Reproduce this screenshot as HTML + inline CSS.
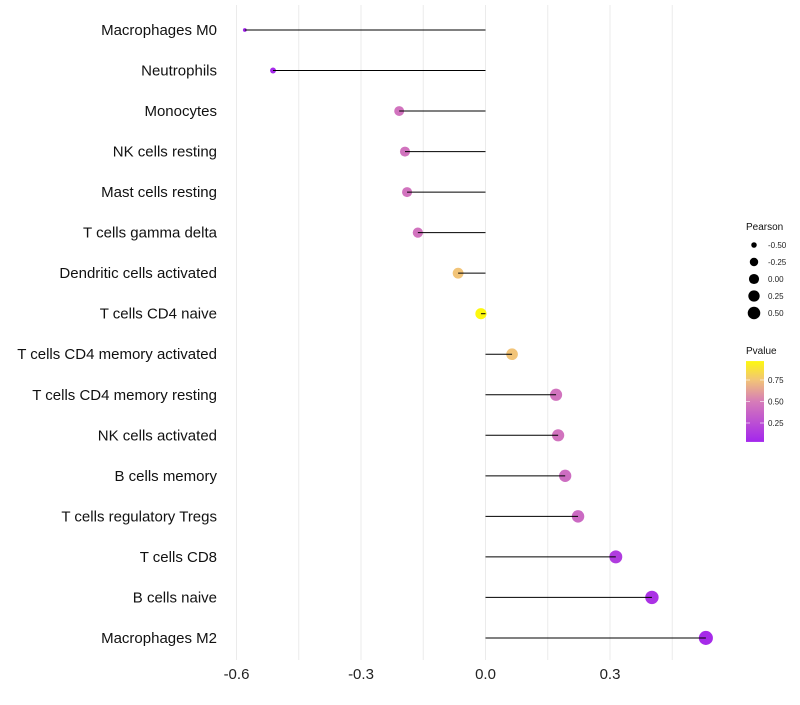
<!DOCTYPE html>
<html><head><meta charset="utf-8"><style>
body{margin:0;background:#fff;font-family:"Liberation Sans",sans-serif}
</style></head><body>
<svg id="c" width="800" height="700" xmlns="http://www.w3.org/2000/svg" font-family="Liberation Sans, sans-serif"></svg>
<script>
const categories=["Macrophages M0","Neutrophils","Monocytes","NK cells resting","Mast cells resting","T cells gamma delta","Dendritic cells activated","T cells CD4 naive","T cells CD4 memory activated","T cells CD4 memory resting","NK cells activated","B cells memory","T cells regulatory  Tregs ","T cells CD8","B cells naive","Macrophages M2"];
const pearson=[-0.58,-0.512,-0.208,-0.194,-0.189,-0.163,-0.066,-0.011,0.064,0.170,0.175,0.192,0.223,0.314,0.401,0.531];
const pvalue=[0.03,0.05,0.45,0.45,0.45,0.45,0.75,0.97,0.75,0.45,0.45,0.42,0.40,0.15,0.10,0.06];
const xTicks=[-0.6,-0.3,0.0,0.3];
const xTickLabels=["-0.6","-0.3","0.0","0.3"];
const xGrid=[-0.6,-0.45,-0.3,-0.15,0,0.15,0.3,0.45];
const sizeLegend=[-0.5,-0.25,0,0.25,0.5];
const sizeLegendLabels=["-0.50","-0.25","0.00","0.25","0.50"];
const pTicks=[0.25,0.5,0.75];

const svg=document.getElementById('c');
const NS="http://www.w3.org/2000/svg";
const x=v=>485.5+v*415;
const y=i=>30+i*40.53;
// size scale (visual mapping, piecewise)
const sk=[[-0.6,1.6],[-0.51,3],[-0.2,5],[0.06,5.8],[0.55,7.1]];
function r(v){if(v<=sk[0][0])return sk[0][1];for(let k=1;k<sk.length;k++){if(v<=sk[k][0]){const a=sk[k-1],b=sk[k];return a[1]+(b[1]-a[1])*(v-a[0])/(b[0]-a[0]);}}return sk[sk.length-1][1];}
const stops=[[0,[160,32,240]],[0.5,[214,124,184]],[0.75,[242,196,120]],[1,[255,255,0]]];
function col(p){for(let k=1;k<stops.length;k++){if(p<=stops[k][0]){const a=stops[k-1],b=stops[k],t=(p-a[0])/(b[0]-a[0]);return 'rgb('+a[1].map((c,j)=>Math.round(c+(b[1][j]-c)*t)).join(',')+')';}}return 'rgb(255,255,0)';}
function mk(tag,at,parent){const e=document.createElementNS(NS,tag);for(const k in at)e.setAttribute(k,at[k]);(parent||svg).appendChild(e);return e;}
xGrid.forEach(v=>{const l=mk('line',{x1:x(v),x2:x(v),y1:5,y2:660,stroke:'#ebebeb','stroke-width':1});

});
xTicks.forEach((v,i)=>{const t=mk('text',{x:x(v),y:679,'text-anchor':'middle','font-size':15,fill:'#222'});t.textContent=xTickLabels[i];

});
categories.forEach((c,i)=>{
const t=mk('text',{x:217,y:y(i)+5,'text-anchor':'end','font-size':15,fill:'#111'});t.textContent=c;


const p=mk('circle',{cx:x(pearson[i]),cy:y(i),r:r(pearson[i]),fill:col(pvalue[i])});


const l=mk('line',{x1:x(0),x2:x(pearson[i]),y1:y(i),y2:y(i),stroke:'#000','stroke-width':1});


});
const lt=mk('text',{x:746,y:230,'font-size':10,fill:'#111'});lt.textContent='Pearson';


sizeLegend.forEach((v,i)=>{const cy=245+i*17;
const c=mk('circle',{cx:754,cy:cy,r:r(v)*0.9,fill:'#000'});


const t=mk('text',{x:768,y:cy+3,'font-size':8,fill:'#222'});t.textContent=sizeLegendLabels[i];

});
const pt=mk('text',{x:746,y:354,'font-size':10,fill:'#111'});pt.textContent='Pvalue';


const defs=mk('defs',{});const g=mk('linearGradient',{id:'pg',x1:0,y1:1,x2:0,y2:0},defs);
[0.03,0.25,0.5,0.75,0.97].forEach(p=>mk('stop',{offset:(p-0.03)/0.94,'stop-color':col(p)},g));
const py=p=>444.5-p*86;
const bar=mk('rect',{x:746,y:py(0.97),width:18,height:py(0.03)-py(0.97),fill:'url(#pg)'});


pTicks.forEach(p=>{mk('line',{x1:746,x2:750,y1:py(p),y2:py(p),stroke:'#fff','stroke-width':0.6});mk('line',{x1:760,x2:764,y1:py(p),y2:py(p),stroke:'#fff','stroke-width':0.6});
const t=mk('text',{x:768,y:py(p)+3,'font-size':8,fill:'#222'});t.textContent=p.toFixed(2);

});
</script>
</body></html>
